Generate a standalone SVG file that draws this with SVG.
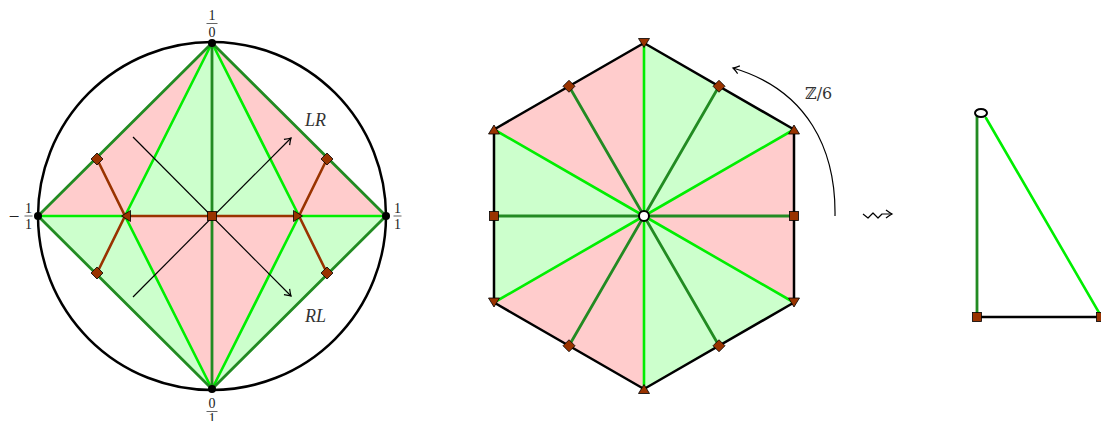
<svg xmlns="http://www.w3.org/2000/svg" width="1101" height="421" viewBox="0 0 1101 421">
<style>
.pk{fill:#ffcccc;stroke:none}
.lg{fill:#ccffcc;stroke:none}
.bg{stroke:#00ee00;stroke-width:2.6;fill:none;stroke-linecap:round}
.dg{stroke:#228b22;stroke-width:2.8;fill:none;stroke-linecap:round}
.br{stroke:#993300;stroke-width:2.6;fill:none;stroke-linecap:round}
.bk{stroke:#000;stroke-width:2.5;fill:none}
.thin{stroke:#000;stroke-width:1.2;fill:none}
.mk{fill:#993300;stroke:#000;stroke-width:0.8}
.fr{font-family:"Liberation Serif","DejaVu Serif",serif;font-size:14px;fill:#222;text-anchor:middle}
.it{font-family:"Liberation Serif","DejaVu Serif",serif;font-style:italic;font-size:18px;fill:#333}
.bar{stroke:#222;stroke-width:0.7}
</style>
<defs>
<marker id="ah" viewBox="-8 -5 10 10" refX="0" refY="0" markerWidth="10" markerHeight="10" markerUnits="userSpaceOnUse" orient="auto">
<path d="M-6,-4 Q-2,-1 0,0 Q-2,1 -6,4" fill="none" stroke="#000" stroke-width="1.2"/>
</marker>
<rect id="sq" x="-4.5" y="-4.5" width="9" height="9" class="mk"/>
<path id="dm" d="M0,-6 L6,0 L0,6 L-6,0 Z" class="mk"/>
<path id="tr" d="M-4.5,-5.5 L4.5,0 L-4.5,5.5 Z" class="mk"/>
</defs>

<g id="farey">
<polygon class="pk" points="38,216 212,43 125,216"/>
<polygon class="lg" points="212,43 125,216 212,216"/>
<polygon class="lg" points="212,43 212,216 299,216"/>
<polygon class="pk" points="212,43 299,216 386,216"/>
<polygon class="lg" points="38,216 125,216 212,389"/>
<polygon class="pk" points="125,216 212,216 212,389"/>
<polygon class="pk" points="212,216 299,216 212,389"/>
<polygon class="lg" points="299,216 386,216 212,389"/>
<circle class="bk" cx="212" cy="216" r="174"/>
<path class="bg" d="M212,43 L125,216 L212,389 M212,43 L299,216 L212,389 M38,216 H125 M299,216 H386"/>
<path class="dg" d="M212,43 V389"/>
<path class="br" d="M125,216 H299 M97,159 L125,216 L97,273 M327,159 L299,216 L327,273"/>
<polygon class="dg" points="212,43 386,216 212,389 38,216" stroke-linejoin="round"/>
</g>

<g id="connectors">
<path class="thin" d="M133,297 L291,138" marker-end="url(#ah)"/>
<path class="thin" d="M133,137 L291,296" marker-end="url(#ah)"/>
<path class="thin" d="M835,216 C836,150 808,90 733,68" marker-end="url(#ah)"/>
<path d="M863,214 L868,218 L873,213 L878,218 L882,214 H892" fill="none" stroke="#000" stroke-width="1.2" stroke-linejoin="round" marker-end="url(#ah)"/>
</g>

<g id="farey-markers">
<use href="#sq" x="212" y="216"/>
<use href="#tr" transform="translate(126,216) rotate(180)"/>
<use href="#tr" transform="translate(298,216)"/>
<use href="#dm" x="97" y="159"/>
<use href="#dm" x="97" y="273"/>
<use href="#dm" x="327" y="159"/>
<use href="#dm" x="327" y="273"/>
<circle cx="212" cy="43" r="4" fill="#000"/>
<circle cx="38" cy="216" r="4" fill="#000"/>
<circle cx="386" cy="216" r="4" fill="#000"/>
<circle cx="212" cy="389" r="4" fill="#000"/>
</g>

<g id="labels">
<text class="fr" x="212" y="20">1</text><line class="bar" x1="206.5" y1="23.5" x2="217.5" y2="23.5"/><text class="fr" x="212" y="36.5">0</text>
<text class="fr" x="14" y="222.5" style="font-size:19px">−</text>
<text class="fr" x="28.5" y="212.5">1</text><line class="bar" x1="24.5" y1="216" x2="32.5" y2="216"/><text class="fr" x="28.5" y="229">1</text>
<text class="fr" x="397.5" y="212.5">1</text><line class="bar" x1="393.5" y1="216" x2="401.5" y2="216"/><text class="fr" x="397.5" y="229">1</text>
<text class="fr" x="212" y="408">0</text><line class="bar" x1="206.5" y1="411.5" x2="217.5" y2="411.5"/><text class="fr" x="212" y="423">1</text>
<text class="it" x="305" y="126">LR</text>
<text class="it" x="305" y="322">RL</text>
<text x="805" y="99" font-family="DejaVu Serif, Liberation Serif, serif" font-size="16" fill="#333">ℤ/6</text>
</g>

<g id="hexagon">
<polygon class="lg" points="644,216 644,43 794,129.5"/>
<polygon class="pk" points="644,216 794,129.5 794,302.5"/>
<polygon class="lg" points="644,216 794,302.5 644,389"/>
<polygon class="pk" points="644,216 644,389 494,302.5"/>
<polygon class="lg" points="644,216 494,302.5 494,129.5"/>
<polygon class="pk" points="644,216 494,129.5 644,43"/>
<path class="bg" d="M644,216 L644,43 M644,216 L794,129.5 M644,216 L794,302.5 M644,216 L644,389 M644,216 L494,302.5 M644,216 L494,129.5"/>
<path class="dg" d="M644,216 L719,86.25 M644,216 L794,216 M644,216 L719,345.75 M644,216 L569,345.75 M644,216 L494,216 M644,216 L569,86.25"/>
<polygon class="bk" points="644,43 794,129.5 794,302.5 644,389 494,302.5 494,129.5" stroke-linejoin="round"/>
<use href="#tr" transform="translate(644,43) rotate(90)"/>
<use href="#tr" transform="translate(644,389) rotate(-90)"/>
<use href="#tr" transform="translate(794,129.5) rotate(-90)"/>
<use href="#tr" transform="translate(794,302.5) rotate(90)"/>
<use href="#tr" transform="translate(494,129.5) rotate(-90)"/>
<use href="#tr" transform="translate(494,302.5) rotate(90)"/>
<use href="#sq" x="794" y="216"/>
<use href="#sq" x="494" y="216"/>
<use href="#dm" x="719" y="86.25"/>
<use href="#dm" x="569" y="86.25"/>
<use href="#dm" x="719" y="345.75"/>
<use href="#dm" x="569" y="345.75"/>
<circle cx="644" cy="216" r="5" fill="#fff" stroke="#000" stroke-width="2"/>
</g>

<g id="quotient">
<path class="dg" d="M977,116 V317"/>
<path class="bg" d="M986,118 L1101,316"/>
<path class="bk" d="M977,317 H1101"/>
<ellipse cx="981" cy="113" rx="6" ry="4" fill="#fff" stroke="#000" stroke-width="2"/>
<use href="#sq" x="977" y="317"/>
<use href="#sq" x="1101" y="317"/>
</g>
</svg>
